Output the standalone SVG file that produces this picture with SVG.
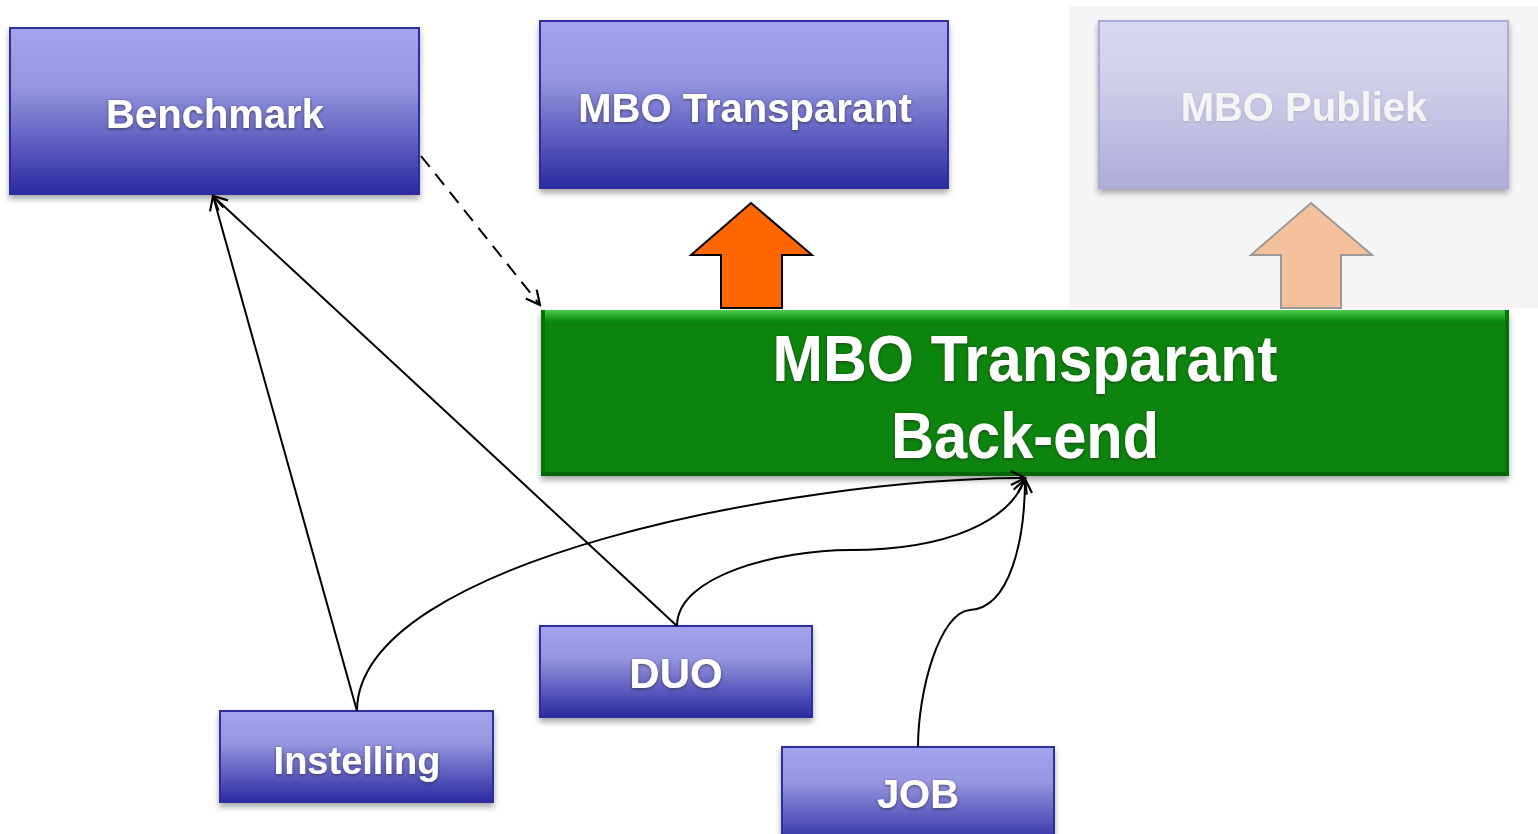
<svg xmlns="http://www.w3.org/2000/svg" width="1538" height="834" viewBox="0 0 1538 834">
<style>
.lbl{font-family:"Liberation Sans",Arial,sans-serif;font-weight:bold;fill:#ffffff;text-anchor:middle;}
.box{fill:url(#blue);stroke:#2f2f9f;stroke-width:2;}
.con{fill:none;stroke:#000;stroke-width:2;}
</style>
<defs>
<linearGradient id="blue" x1="0" y1="0" x2="0" y2="1">
<stop offset="0" stop-color="#a4a4ee"/>
<stop offset="0.35" stop-color="#9696e0"/>
<stop offset="1" stop-color="#2a2aa2"/>
</linearGradient>
<linearGradient id="pale" x1="0" y1="0" x2="0" y2="1">
<stop offset="0" stop-color="#d7d7f1"/>
<stop offset="0.35" stop-color="#cfcfea"/>
<stop offset="1" stop-color="#a9a9d7"/>
</linearGradient>
<linearGradient id="bevel" x1="0" y1="0" x2="0" y2="1">
<stop offset="0" stop-color="#4ccc4c"/>
<stop offset="1" stop-color="#068606"/>
</linearGradient>
<filter id="shadow" x="-5%" y="-10%" width="110%" height="130%">
<feDropShadow dx="0" dy="4" stdDeviation="3" flood-color="#000" flood-opacity="0.35"/>
</filter>
<filter id="tsh" x="-10%" y="-30%" width="120%" height="160%">
<feDropShadow dx="0" dy="1" stdDeviation="1.5" flood-color="#222" flood-opacity="0.7"/>
</filter>
<filter id="tsh2" x="-10%" y="-30%" width="120%" height="160%">
<feDropShadow dx="0" dy="1" stdDeviation="1.5" flood-color="#888" flood-opacity="0.35"/>
</filter>
<marker id="arr" viewBox="-16 -9 18 18" refX="0" refY="0" markerWidth="18" markerHeight="18" markerUnits="userSpaceOnUse" orient="auto">
<path d="M-14,-7 L0,0 L-14,7" fill="none" stroke="#000" stroke-width="2.2"/>
</marker>
</defs>
<rect x="0" y="0" width="1538" height="834" fill="#ffffff"/>
<rect x="1069" y="6" width="469" height="302" fill="#f5f5f5"/>

<g id="benchmark">
<rect class="box" x="10" y="28" width="409" height="166" filter="url(#shadow)"/>
<text class="lbl" x="215" y="128" font-size="40" filter="url(#tsh)">Benchmark</text>
</g>
<g id="mbo-transparant">
<rect class="box" x="540" y="21" width="408" height="167" filter="url(#shadow)"/>
<text class="lbl" x="745" y="122" font-size="40" filter="url(#tsh)">MBO Transparant</text>
</g>
<g id="mbo-publiek">
<rect x="1099" y="21" width="409" height="167" fill="url(#pale)" stroke="#a9a9d9" stroke-width="2" filter="url(#shadow)" opacity="0.95"/>
<text class="lbl" x="1304" y="121" font-size="40" style="fill:#f4f4f4" filter="url(#tsh2)">MBO Publiek</text>
</g>
<g id="arrow-orange">
<polygon points="751,203 812,255 782,255 782,308 721,308 721,255 691,255" fill="#ff6600" stroke="#000" stroke-width="2"/>
</g>
<g id="arrow-peach">
<polygon points="1311,203 1372,255 1341,255 1341,308 1281,308 1281,255 1251,255" fill="#f5c09c" stroke="#999" stroke-width="2"/>
</g>
<g id="backend">
<rect x="541" y="310" width="968" height="166" fill="#078407" filter="url(#shadow)"/>
<rect x="541" y="310" width="968" height="12" fill="url(#bevel)"/>
<rect x="541" y="310" width="4" height="166" fill="#057205"/>
<rect x="1505" y="310" width="4" height="166" fill="#057205"/>
<rect x="541" y="472" width="968" height="4" fill="#046604"/>
<text class="lbl" x="1025" y="381" font-size="64" textLength="505" lengthAdjust="spacingAndGlyphs" filter="url(#tsh)">MBO Transparant</text>
<text class="lbl" x="1025" y="458" font-size="64" textLength="268" lengthAdjust="spacingAndGlyphs" filter="url(#tsh)">Back-end</text>
</g>
<g id="duo">
<rect class="box" x="540" y="626" width="272" height="91" filter="url(#shadow)"/>
<text class="lbl" x="676" y="688" font-size="42" filter="url(#tsh)">DUO</text>
</g>
<g id="instelling">
<rect class="box" x="220" y="711" width="273" height="91" filter="url(#shadow)"/>
<text class="lbl" x="357" y="774" font-size="38" filter="url(#tsh)">Instelling</text>
</g>
<g id="job">
<rect class="box" x="782" y="747" width="272" height="100" filter="url(#shadow)"/>
<text class="lbl" x="918" y="808" font-size="40" filter="url(#tsh)">JOB</text>
</g>

<g id="connectors">
<line class="con" x1="421" y1="156" x2="540" y2="305" stroke-width="2.8" stroke-dasharray="14,9" marker-end="url(#arr)"/>
<line class="con" x1="357" y1="711" x2="213" y2="196" marker-end="url(#arr)"/>
<line class="con" x1="677" y1="626" x2="213" y2="196" marker-end="url(#arr)"/>
<path class="con" d="M357,711 C357,560 800,478 1025,478" marker-end="url(#arr)"/>
<path class="con" d="M677,626 C677,575 780,550 850,550 C950,550 1010,520 1025,479" marker-end="url(#arr)"/>
<path class="con" d="M918,747 C918,690 940,612 970,610 C1010,608 1025,540 1025,479" marker-end="url(#arr)"/>
</g>
</svg>
